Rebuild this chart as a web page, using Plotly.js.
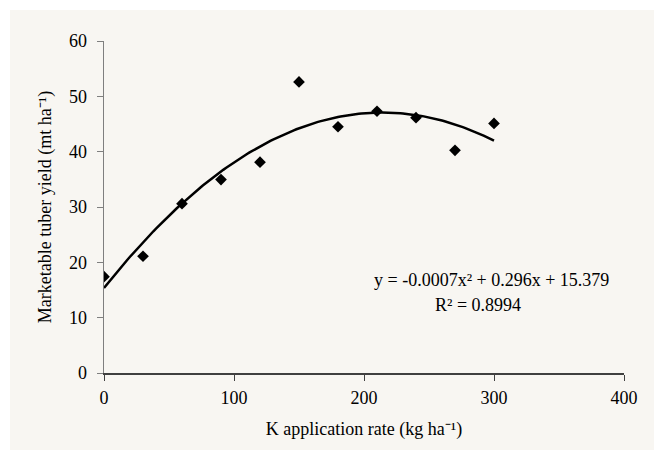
<!DOCTYPE html>
<html>
<head>
<meta charset="utf-8">
<script src="https://cdn.plot.ly/plotly-3.0.1.min.js"></script>
<style>
html,body{margin:0;padding:0;background:#ffffff;}
#chart{position:absolute;left:10px;top:10px;width:644px;height:440px;}
</style>
</head>
<body>
<div id="chart"></div>
<script>
const kRate = [0, 30, 60, 90, 120, 150, 180, 210, 240, 270, 300];
const yieldVals = [17.4, 21.1, 30.6, 34.95, 38.1, 52.6, 44.5, 47.3, 46.15, 40.25, 45.1];
const xTicks = [0, 100, 200, 300, 400];
const yTicks = [0, 10, 20, 30, 40, 50, 60];
const xTitle = 'K application rate (kg ha\u207B\u00B9)';
const yTitle = 'Marketable tuber yield (mt ha\u207B\u00B9)';
const eqText = 'y = -0.0007x\u00B2 + 0.296x + 15.379';
const r2Text = 'R\u00B2 = 0.8994';

// least squares quadratic trendline (as the spreadsheet did)
function quadFit(xs, ys){
  let n=xs.length,S=[0,0,0,0,0],T=[0,0,0];
  for(let i=0;i<n;i++){const x=xs[i],y=ys[i];
    for(let p=0;p<5;p++)S[p]+=Math.pow(x,p);
    for(let p=0;p<3;p++)T[p]+=y*Math.pow(x,p);}
  const A=[[S[0],S[1],S[2],T[0]],[S[1],S[2],S[3],T[1]],[S[2],S[3],S[4],T[2]]];
  for(let i=0;i<3;i++){for(let j=i+1;j<3;j++){const f=A[j][i]/A[i][i];for(let k=i;k<4;k++)A[j][k]-=f*A[i][k];}}
  const c=[0,0,0];
  for(let i=2;i>=0;i--){let s=A[i][3];for(let k=i+1;k<3;k++)s-=A[i][k]*c[k];c[i]=s/A[i][i];}
  return c;
}
const coef = quadFit(kRate, yieldVals);
const trendX = [], trendY = [];
const xMin = Math.min(...kRate), xMax = Math.max(...kRate);
for(let i=0;i<=150;i++){const x=xMin+(xMax-xMin)*i/150;trendX.push(x);trendY.push(coef[0]+coef[1]*x+coef[2]*x*x);}

function F(){ return {family:'Liberation Serif', size:18, color:'#000000'}; }
const data = [
  {x:kRate, y:yieldVals, type:'scatter', mode:'markers',
   marker:{symbol:'diamond', size:9, color:'#000'}, showlegend:false},
  {x:trendX, y:trendY, type:'scatter', mode:'lines',
   line:{color:'#000', width:2.5}, showlegend:false}
];
const layout = {
  width:644, height:440,
  margin:{l:94, r:30, t:31, b:77},
  paper_bgcolor:'#f8f6f2', plot_bgcolor:'#f8f6f2',
  xaxis:{range:[0,400], tickvals:xTicks, ticktext:xTicks.map(String), showgrid:false, zeroline:false,
    showline:true, linecolor:'#404040', linewidth:1.5, ticks:'outside', ticklen:6, tickcolor:'#404040',
    ticklabelstandoff:2, tickfont:F(),
    title:{text:xTitle, font:F(), standoff:15}, automargin:false},
  yaxis:{range:[0,60], tickvals:yTicks, ticktext:yTicks.map(String), showgrid:false, zeroline:false,
    showline:true, linecolor:'#7f7f7f', linewidth:1.5, ticks:'outside', ticklen:6, tickcolor:'#7f7f7f',
    ticklabelstandoff:6, tickfont:F(),
    title:{text:yTitle, font:F(), standoff:12}, automargin:false},
  annotations:[
    {xref:'x', yref:'y', x:298, y:16.8, text:eqText, showarrow:false, font:F()},
    {xref:'x', yref:'y', x:288, y:12.2, text:r2Text, showarrow:false, font:F()}
  ]
};
Plotly.newPlot('chart', data, layout, {staticPlot:true});
</script>
</body>
</html>
